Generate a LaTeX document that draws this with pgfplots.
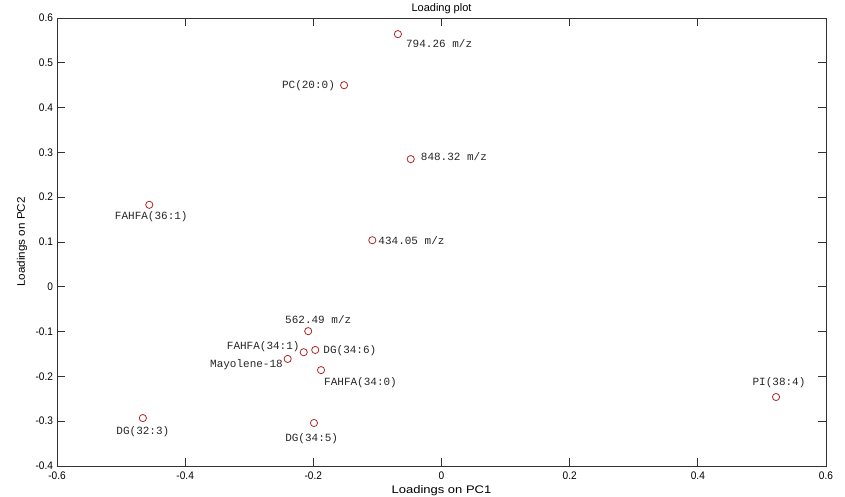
\documentclass[border=0pt]{standalone}
\usepackage{fontspec}
\setmainfont{Liberation Sans}
\newfontfamily\narrowfont[FakeStretch=0.92]{Liberation Sans}
\newfontfamily\widefont[FakeStretch=1.18]{Liberation Sans}
\newfontfamily\ylfont[FakeStretch=1.06]{Liberation Sans}
\newfontfamily\labelfont{Liberation Mono}
\usepackage{pgfplots}
\pgfplotsset{compat=1.18}
\definecolor{mk}{RGB}{175,38,38}
\definecolor{ax}{RGB}{50,50,50}
\tikzset{lbl/.style={font=\labelfont\fontsize{11}{12}\selectfont, text=black!85, inner sep=0pt}}

\begin{document}
\begin{tikzpicture}
\path[use as bounding box] (-57pt,-31pt) rectangle (788pt,466pt);
\begin{axis}[
  scale only axis, width=769pt, height=448pt,
  at={(0,0)}, anchor=south west,
  xmin=-0.6, xmax=0.6, ymin=-0.4, ymax=0.6,
  xtick={-0.6,-0.4,-0.2,0,0.2,0.4,0.6},
  ytick={-0.4,-0.3,-0.2,-0.1,0,0.1,0.2,0.3,0.4,0.5,0.6},
  tick align=inside, major tick length=8pt,
  axis line style={ax, line width=0.8pt},
  tick style={ax, line width=0.8pt},
  /pgf/number format/assume math mode=true,
  ticklabel style={font=\narrowfont\fontsize{11}{12}\selectfont, text=black},
  xticklabel style={yshift=-2.5pt},
  yticklabel style={xshift=-0.5pt},
  every axis title shift=0pt,
  title={Loading plot},
  title style={at={(axis description cs:0.5,1.0201)}, anchor=center, font=\fontsize{11}{12}\selectfont},
  xlabel={Loadings on PC1},
  xlabel style={at={(axis description cs:0.5,-0.0558)}, anchor=center, font=\widefont\fontsize{11}{12}\selectfont},
  ylabel={Loadings on PC2},
  ylabel style={at={(axis description cs:-0.0455,0.5)}, anchor=center, font=\ylfont\fontsize{11}{12}\selectfont},
  clip=false,
]
\addplot[only marks, mark=o, mark size=3.6pt, mark options={draw=mk, line width=0.8pt}] table {
x y
-0.068 0.564
-0.152 0.450
-0.048 0.285
-0.456 0.183
-0.108 0.104
-0.208 -0.099
-0.197 -0.141
-0.215 -0.146
-0.240 -0.161
-0.188 -0.186
-0.466 -0.293
-0.199 -0.304
0.522 -0.246
};
\node[lbl, anchor=west,   xshift=8pt,    yshift=-9pt]    at (axis cs:-0.068,0.564)  {794.26 m/z};
\node[lbl, anchor=east,   xshift=-9pt,   yshift=0pt]     at (axis cs:-0.152,0.450)  {PC(20:0)};
\node[lbl, anchor=west,   xshift=10pt,   yshift=2.6pt]   at (axis cs:-0.048,0.285)  {848.32 m/z};
\node[lbl, anchor=center, xshift=2pt,    yshift=-11.7pt] at (axis cs:-0.456,0.183)  {FAHFA(36:1)};
\node[lbl, anchor=west,   xshift=6pt,    yshift=0pt]     at (axis cs:-0.108,0.104)  {434.05 m/z};
\node[lbl, anchor=center, xshift=10pt,   yshift=12pt]    at (axis cs:-0.208,-0.099) {562.49 m/z};
\node[lbl, anchor=west,   xshift=8pt,    yshift=-0.7pt]  at (axis cs:-0.197,-0.141) {DG(34:6)};
\node[lbl, anchor=east,   xshift=-4pt,   yshift=6pt]     at (axis cs:-0.215,-0.146) {FAHFA(34:1)};
\node[lbl, anchor=east,   xshift=-4.7pt, yshift=-5.7pt]  at (axis cs:-0.240,-0.161) {Mayolene-18};
\node[lbl, anchor=west,   xshift=3pt,    yshift=-12.4pt] at (axis cs:-0.188,-0.186) {FAHFA(34:0)};
\node[lbl, anchor=center, xshift=0pt,    yshift=-13.5pt] at (axis cs:-0.466,-0.293) {DG(32:3)};
\node[lbl, anchor=center, xshift=-2.3pt, yshift=-16pt]   at (axis cs:-0.199,-0.304) {DG(34:5)};
\node[lbl, anchor=center, xshift=3pt,    yshift=14.7pt]  at (axis cs:0.522,-0.246)  {PI(38:4)};
\end{axis}
\end{tikzpicture}
\end{document}
